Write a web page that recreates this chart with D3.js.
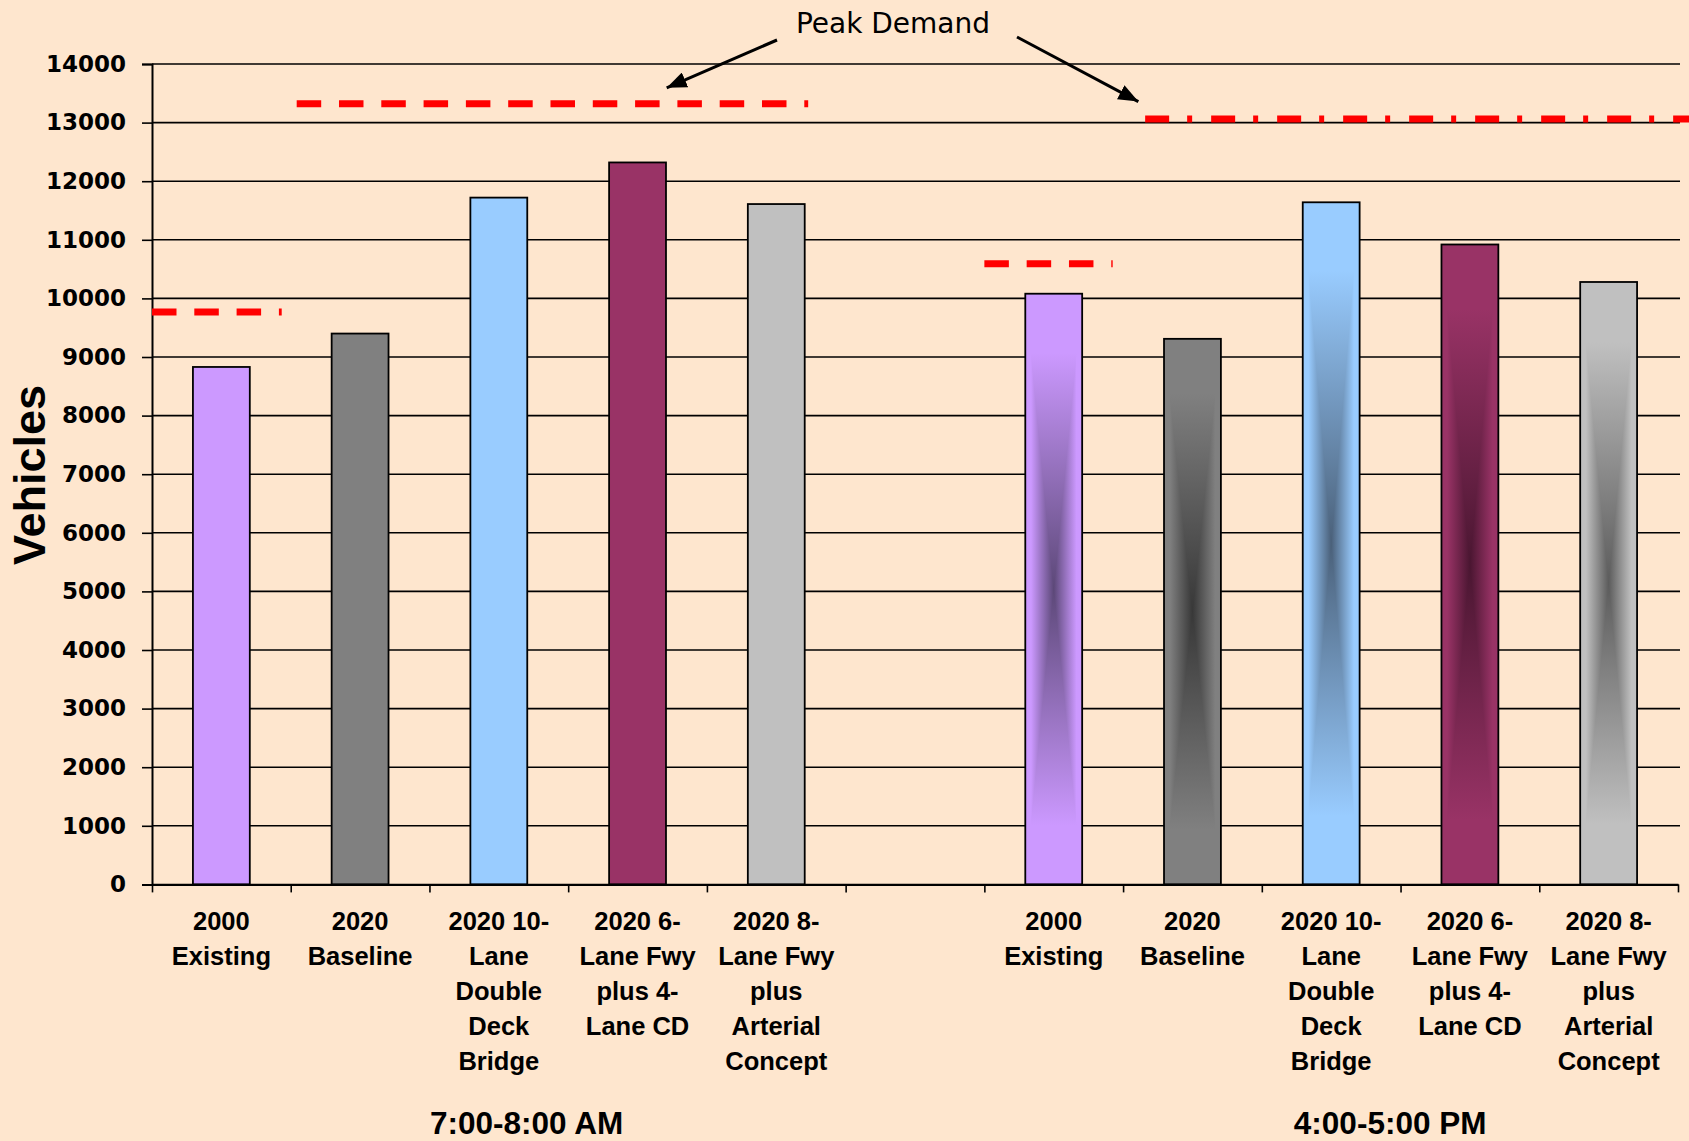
<!DOCTYPE html>
<html>
<head>
<meta charset="utf-8">
<script src="https://cdn.jsdelivr.net/npm/d3@7"></script>
<style>
  html, body { margin: 0; padding: 0; background: #FEE6CE; }
  svg { display: block; }
</style>
</head>
<body>
<svg id="chart" width="1689" height="1141"></svg>
<script>
// ---- data ----------------------------------------------------------------
const scenarioLabels = [
  ["2000", "Existing"],
  ["2020", "Baseline"],
  ["2020 10-", "Lane", "Double", "Deck", "Bridge"],
  ["2020 6-", "Lane Fwy", "plus 4-", "Lane CD"],
  ["2020 8-", "Lane Fwy", "plus", "Arterial", "Concept"]
];
const amVehicles = [8830, 9400, 11720, 12320, 11610];   // 7:00-8:00 AM
const pmVehicles = [10080, 9310, 11640, 10920, 10280];  // 4:00-5:00 PM
const periodLabels = ["7:00-8:00 AM", "4:00-5:00 PM"];
const yTickValues = [0, 1000, 2000, 3000, 4000, 5000, 6000, 7000,
                     8000, 9000, 10000, 11000, 12000, 13000, 14000];

// Peak demand levels; from/to are positions along the category axis
const peakValues = [9770, 13320, 10590, 13060];
const peakFrom   = [0, 1.043, 6, 7.159];
const peakTo     = [0.935, 4.73, 6.925, 11.08];
const peakStyle  = ["dash", "dash", "dash", "dashdot"];

// ---- styles --------------------------------------------------------------
const barColors  = ["#CC99FF", "#808080", "#99CCFF", "#993366", "#C0C0C0"];
const barCenters = ["#5C4878", "#383838", "#4A6079", "#4A1631", "#5C5C5C"];
const font = "'Liberation Sans', Arial, Helvetica, sans-serif";
const wideFont = "'DejaVu Sans', Verdana, Tahoma, sans-serif";

// ---- layout --------------------------------------------------------------
const W = 1689, H = 1141;
const plotL = 152, plotR = 1678, plotT = 64, plotB = 884.4;

const slots = d3.range(11); // 5 AM scenarios, a gap, 5 PM scenarios
const bars = [];
amVehicles.forEach((v, i) => bars.push({slot: i, scen: i, value: v, shaded: false}));
pmVehicles.forEach((v, i) => bars.push({slot: 6 + i, scen: i, value: v, shaded: true}));

const x = d3.scaleBand().domain(slots).range([plotL, plotR])
  .paddingInner(0.59).paddingOuter(0.295);
const xPos = d3.scaleLinear().domain([0, slots.length]).range([plotL, plotR]);
const y = d3.scaleLinear().domain([0, 14000]).range([plotB, plotT]);

const svg = d3.select("#chart");
svg.append("rect").attr("width", W).attr("height", H).attr("fill", "#FEE6CE");

const defs = svg.append("defs");

// Centre-shaded fills for the PM bars: a vertical ramp for the full bar
// plus horizontal ramps on the left / right triangles (rectangular gradient)
barColors.forEach((c, i) => {
  const dark = barCenters[i];
  const v = defs.append("linearGradient").attr("id", "gv" + i)
    .attr("x1", 0).attr("y1", 0).attr("x2", 0).attr("y2", 1);
  [[0, c], [0.1, c], [0.5, dark], [0.9, c], [1, c]].forEach(([o, col]) =>
    v.append("stop").attr("offset", o).attr("stop-color", col));
  const l = defs.append("linearGradient").attr("id", "gl" + i)
    .attr("x1", 0).attr("y1", 0).attr("x2", 1).attr("y2", 0);
  const r = defs.append("linearGradient").attr("id", "gr" + i)
    .attr("x1", 1).attr("y1", 0).attr("x2", 0).attr("y2", 0);
  [l, r].forEach(g => [[0, c], [0.2, c], [1, dark]].forEach(([o, col]) =>
    g.append("stop").attr("offset", o).attr("stop-color", col)));
});

defs.append("marker").attr("id", "arrowhead")
  .attr("viewBox", "0 0 20 16").attr("refX", 20).attr("refY", 8)
  .attr("markerWidth", 20).attr("markerHeight", 16)
  .attr("markerUnits", "userSpaceOnUse").attr("orient", "auto")
  .append("path").attr("d", "M0,0 L20,8 L0,16 Z").attr("fill", "#000");

// ---- gridlines -----------------------------------------------------------
svg.append("g").selectAll("line")
  .data(yTickValues.filter(d => d > 0))
  .join("line")
  .attr("x1", plotL).attr("x2", plotR + 2)
  .attr("y1", d => y(d)).attr("y2", d => y(d))
  .attr("stroke", "#000").attr("stroke-width", 1.6);

// ---- bars ----------------------------------------------------------------
const barG = svg.append("g");
bars.forEach(b => {
  const x0 = x(b.slot), w = x.bandwidth(), x1 = x0 + w;
  const y0 = y(b.value), y1 = y(0);
  const cx = x0 + w / 2, cy = (y0 + y1) / 2;
  const g = barG.append("g");
  if (!b.shaded) {
    g.append("rect").attr("x", x0).attr("y", y0).attr("width", w).attr("height", y1 - y0)
      .attr("fill", barColors[b.scen]);
  } else {
    g.append("rect").attr("x", x0).attr("y", y0).attr("width", w).attr("height", y1 - y0)
      .attr("fill", `url(#gv${b.scen})`);
    g.append("polygon").attr("points", [[x0, y0], [x0, y1], [cx, cy]].join(" "))
      .attr("fill", `url(#gl${b.scen})`);
    g.append("polygon").attr("points", [[x1, y0], [x1, y1], [cx, cy]].join(" "))
      .attr("fill", `url(#gr${b.scen})`);
  }
  g.append("rect").attr("x", x0).attr("y", y0).attr("width", w).attr("height", y1 - y0)
    .attr("fill", "none").attr("stroke", "#000").attr("stroke-width", 1.8);
});

// ---- axes ----------------------------------------------------------------
const yAxis = svg.append("g").attr("transform", `translate(${plotL},0)`)
  .call(d3.axisLeft(y).tickValues(yTickValues).tickSize(10).tickPadding(16)
    .tickFormat(d3.format("d")));
yAxis.select(".domain").attr("stroke", "#000").attr("stroke-width", 2);
yAxis.selectAll(".tick line").attr("stroke", "#000").attr("stroke-width", 1.6);
yAxis.selectAll(".tick text")
  .attr("font-family", wideFont).attr("font-weight", "bold").attr("font-size", 23)
  .attr("fill", "#000");

const xAxis = svg.append("g").attr("transform", `translate(0,${plotB})`)
  .call(d3.axisBottom(xPos).tickValues(d3.range(slots.length + 1)).tickSize(8)
    .tickSizeOuter(0).tickFormat(""));
xAxis.select(".domain").attr("stroke", "#000").attr("stroke-width", 2.2);
xAxis.selectAll(".tick line").attr("stroke", "#000").attr("stroke-width", 1.6);

// ---- category labels -----------------------------------------------------
const labelG = svg.append("g")
  .attr("font-family", font).attr("font-weight", "bold").attr("font-size", 25.5)
  .attr("text-anchor", "middle").attr("fill", "#000");
bars.forEach(b => {
  const t = labelG.append("text")
    .attr("x", x(b.slot) + x.bandwidth() / 2).attr("y", 930);
  scenarioLabels[b.scen].forEach((line, k) =>
    t.append("tspan").attr("x", x(b.slot) + x.bandwidth() / 2)
      .attr("dy", k === 0 ? 0 : 35).text(line));
});

// period labels
const periodAt = [2.7, 8.925];
svg.append("g").selectAll("text").data(periodLabels).join("text")
  .attr("x", (d, i) => xPos(periodAt[i])).attr("y", 1134)
  .attr("text-anchor", "middle")
  .attr("font-family", font).attr("font-weight", "bold").attr("font-size", 31.5)
  .attr("fill", "#000").text(d => d);

// axis title
svg.append("text")
  .attr("transform", "translate(45,475) rotate(-90)")
  .attr("text-anchor", "middle")
  .attr("font-family", font).attr("font-weight", "bold").attr("font-size", 45)
  .attr("fill", "#000").text("Vehicles");

// ---- peak demand lines ---------------------------------------------------
svg.append("g").selectAll("line").data(peakValues).join("line")
  .attr("x1", (d, i) => xPos(peakFrom[i])).attr("x2", (d, i) => xPos(peakTo[i]))
  .attr("y1", d => y(d)).attr("y2", d => y(d))
  .attr("stroke", "#FF0000").attr("stroke-width", 7)
  .attr("stroke-dasharray", (d, i) => peakStyle[i] === "dash" ? "24.5,17.8" : "24,18,5,19");

// annotation
svg.append("text").attr("x", 893).attr("y", 32.5).attr("text-anchor", "middle")
  .attr("font-family", wideFont)
  .attr("font-size", 28).attr("fill", "#000").text("Peak Demand");

const arrowFrom = [[777, 40], [1017, 37]];
const arrowTo = [[xPos(3.71), y(peakValues[1]) - 16], [xPos(7.11), y(peakValues[3]) - 17.5]];
svg.append("g").selectAll("line").data(arrowFrom).join("line")
  .attr("x1", d => d[0]).attr("y1", d => d[1])
  .attr("x2", (d, i) => arrowTo[i][0]).attr("y2", (d, i) => arrowTo[i][1])
  .attr("stroke", "#000").attr("stroke-width", 3)
  .attr("marker-end", "url(#arrowhead)");
</script>
</body>
</html>
